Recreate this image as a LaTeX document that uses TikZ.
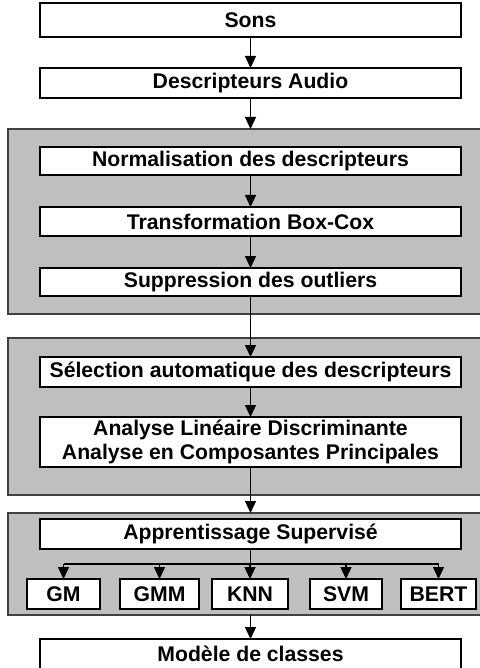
\documentclass[tikz,border=0pt]{standalone}
\usepackage{fontspec}
\setmainfont{Liberation Sans}
\usetikzlibrary{arrows.meta}
\begin{document}
\begin{tikzpicture}[x=1pt,y=1pt,
  box/.style={draw=black, fill=white, line width=1.3pt, inner sep=0pt, outer sep=0pt,
    minimum width=421pt, font=\fontsize{21.2}{24}\selectfont\bfseries, align=center},
  small/.style={box, minimum width=#1},
  grey/.style={draw=black!75, fill=black!25, line width=1.3pt, inner sep=0pt, outer sep=0pt},
  arr/.style={line width=1.3pt, -{Triangle[width=11pt,length=12pt]}},
  ln/.style={line width=1.3pt}]
\useasboundingbox (0,0) rectangle (479,-668);
% grey panels
\node[grey, minimum width=473pt, minimum height=185pt] (g1) at (244.5,-221.5) {};
\node[grey, minimum width=473pt, minimum height=157pt] (g2) at (244.5,-416.5) {};
\node[grey, minimum width=473pt, minimum height=102pt] (g3) at (244.5,-564) {};
% boxes
\node[box, minimum height=34pt] (sons) at (250.5,-20) {Sons};
\node[box, minimum height=30pt] (desc) at (250.5,-83) {Descripteurs Audio};
\node[box, minimum height=28pt] (norm) at (250.5,-161) {Normalisation des descripteurs};
\node[box, minimum height=29pt] (trans) at (250.5,-221.5) {Transformation Box-Cox};
\node[box, minimum height=28pt] (supp) at (250.5,-282) {Suppression des outliers};
\node[box, minimum height=30pt] (sel) at (250.5,-372) {Sélection automatique des descripteurs};
\node[box, minimum height=50pt] (ald) at (250.5,-442) {Analyse Linéaire Discriminante\\Analyse en Composantes Principales};
\node[box, minimum height=30pt] (appr) at (250.5,-534) {Apprentissage Supervisé};
\node[small=73pt, minimum height=30pt] (gm) at (63.5,-594) {GM};
\node[small=79pt, minimum height=30pt] (gmm) at (159.5,-594) {GMM};
\node[small=76pt, minimum height=30pt] (knn) at (250,-594) {KNN};
\node[small=72pt, minimum height=30pt] (svm) at (346,-594) {SVM};
\node[small=75pt, minimum height=30pt] (bert) at (438.5,-594) {BERT};
\node[box, minimum height=30pt] (model) at (250.5,-654) {Modèle de classes};
% connectors
\draw[arr] (sons) -- (desc);
\draw[arr] (desc.south) -- (desc.south |- g1.north);
\draw[arr] (norm) -- (trans);
\draw[arr] (trans) -- (supp);
\draw[arr] (supp) -- (sel);
\draw[arr] (sel) -- (ald);
\draw[arr] (ald.south) -- (ald.south |- g3.north);
\coordinate (br) at (250.5,-564);
\draw[ln] (appr.south) -- (br);
\draw[ln] (gm.north |- br) -- (bert.north |- br);
\foreach \n in {gm,gmm,knn,svm,bert}
  \draw[arr] (\n.north |- br) -- (\n.north);
\draw[arr] (model.north |- g3.south) -- (model.north);
\end{tikzpicture}
\end{document}
